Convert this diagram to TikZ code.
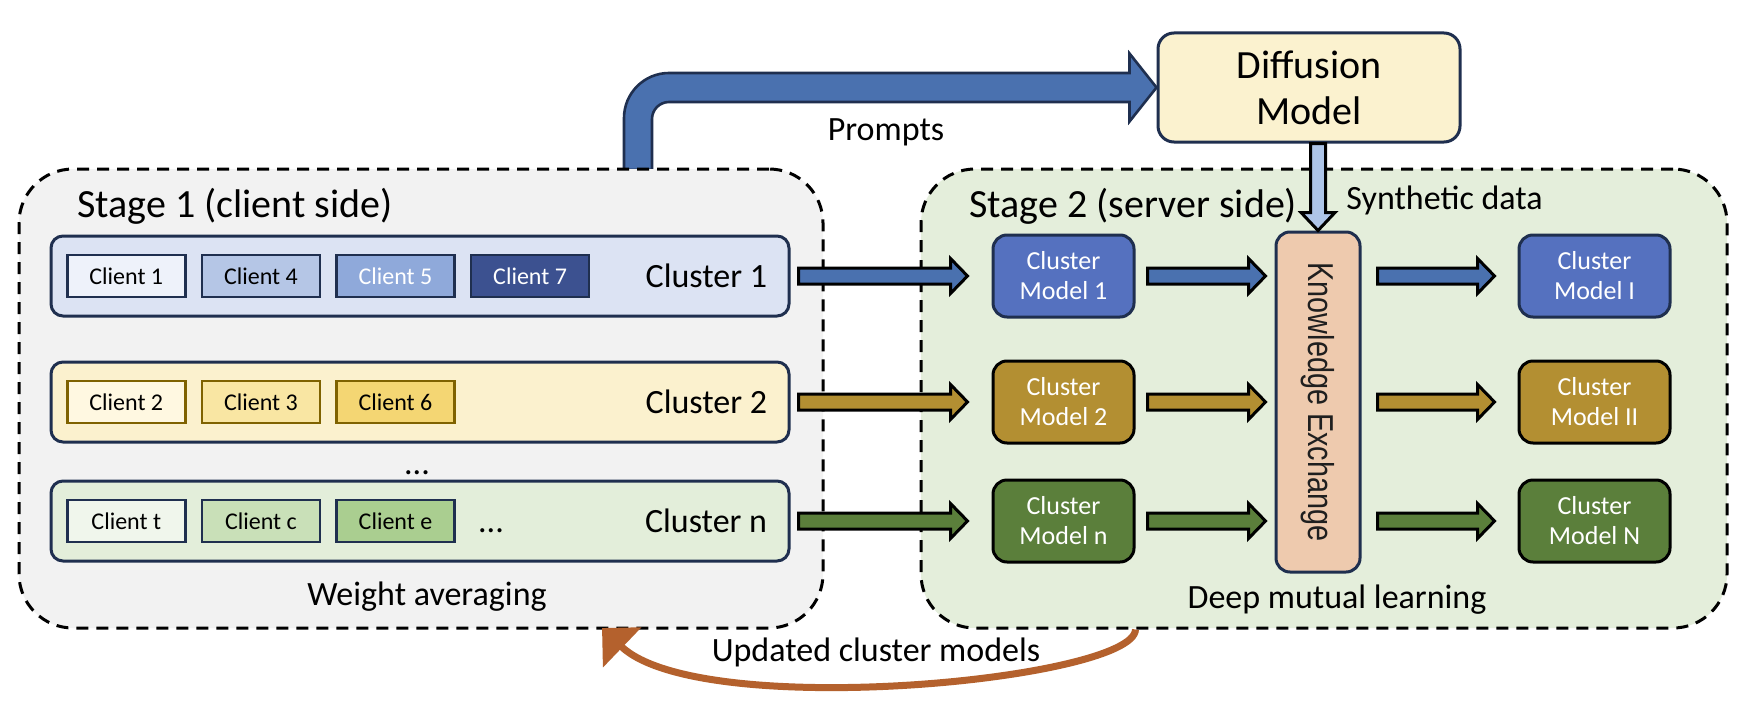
\documentclass[tikz,border=0pt]{standalone}
\usepackage{fontspec}
\setmainfont{Carlito}
\newfontfamily\kefont{Liberation Sans}
\usepackage{tikz}
\usetikzlibrary{positioning}
\usetikzlibrary{arrows.meta,calc}

\definecolor{navy}{HTML}{1F2F4F}
\definecolor{stgA}{HTML}{F2F2F2}
\definecolor{stgB}{HTML}{E4EEDB}
\definecolor{bandA}{HTML}{DCE3F3}
\definecolor{bandB}{HTML}{FBF1CE}
\definecolor{bandN}{HTML}{E3EEDA}
\definecolor{clA}{HTML}{EEF2FA}
\definecolor{clB}{HTML}{B5C6E6}
\definecolor{clC}{HTML}{8FA9DA}
\definecolor{clD}{HTML}{3C5190}
\definecolor{clE}{HTML}{FFF8E1}
\definecolor{clF}{HTML}{F9E6A3}
\definecolor{clG}{HTML}{F4D673}
\definecolor{clbrown}{HTML}{7F6200}
\definecolor{clH}{HTML}{F0F6EC}
\definecolor{clI}{HTML}{C9E0B8}
\definecolor{clJ}{HTML}{AACE90}
\definecolor{mblue}{HTML}{5571BF}
\definecolor{mgold}{HTML}{B38F32}
\definecolor{mgreen}{HTML}{5B7F3B}
\definecolor{ablue}{HTML}{4A71AF}
\definecolor{peach}{HTML}{EECAAE}
\definecolor{diffill}{HTML}{FBF2CF}
\definecolor{synfill}{HTML}{AEC5E8}
\definecolor{rust}{HTML}{B4612D}

\tikzstyle{stagebox} = [draw=black, dash pattern=on 6pt off 4pt, line width=1.5pt, rounded corners=27pt, minimum height=229.5pt]
\tikzstyle{band} = [draw=navy, line width=1.5pt, rounded corners=6pt, minimum width=369pt, minimum height=40pt]
\tikzstyle{client} = [draw=navy, line width=1.3pt, minimum width=59pt, minimum height=21pt, inner sep=0pt, font=\fontsize{12}{14}\selectfont]
\tikzstyle{model} = [draw=black, line width=1.5pt, rounded corners=7pt, minimum width=70.5pt, minimum height=41pt, text=white, align=center, font=\fontsize{13}{15}\selectfont]
\tikzstyle{lbl} = [inner sep=0pt, font=\fontsize{17}{20}\selectfont]
\tikzstyle{stagelbl} = [inner sep=0pt, anchor=west, font=\fontsize{20}{24}\selectfont]
\tikzstyle{updarrow} = [draw=rust, line width=3.5pt, -{Triangle[length=14pt,width=27pt]}]

% fat horizontal arrow: colour, from, to
\newcommand{\hfat}[3]{%
  \filldraw[fill=#1, draw=black, line width=1.5pt] let \p1=#2, \p2=#3 in
    (\x1,\y1+4pt) -- (\x2-8.5pt,\y1+4pt) -- (\x2-8.5pt,\y1+8.75pt) -- (\x2,\y1)
    -- (\x2-8.5pt,\y1-8.75pt) -- (\x2-8.5pt,\y1-4pt) -- (\x1,\y1-4pt) -- cycle;}
% fat downward arrow: colour, from, to
\newcommand{\vfat}[3]{%
  \filldraw[fill=#1, draw=black, line width=1.5pt] let \p1=#2, \p2=#3 in
    (\x2-3.75pt,\y1) -- (\x2-3.75pt,\y2+9pt) -- (\x2-8.5pt,\y2+9pt) -- (\x2,\y2)
    -- (\x2+8.5pt,\y2+9pt) -- (\x2+3.75pt,\y2+9pt) -- (\x2+3.75pt,\y1) -- cycle;}

\begin{document}
\begin{tikzpicture}[x=0.5pt,y=-0.5pt]
  \fill[white] (0,0) rectangle (1749,701);
  \useasboundingbox (0,0) rectangle (1749,701);

  %Nodes
  \node[draw=navy, fill=diffill, line width=1.5pt, rounded corners=8pt, minimum width=151pt, minimum height=54.5pt, align=center, font=\fontsize{20}{23}\selectfont] (DM) at (1309,87.5) {Diffusion\\Model};
  \coordinate (P0) at (638,170);

  % prompts arrow
  \filldraw[fill=ablue, draw=navy, line width=1.3pt] let \p1=(P0), \p2=(DM.west) in
    (\x1-7pt,\y1) -- (\x1-7pt,\y2-15.25pt) arc[start angle=180, end angle=90, radius=22.5pt]
    -- (\x2-13.5pt,\y2+7.25pt) -- (\x2-13.5pt,\y2+17pt) -- (\x2,\y2) -- (\x2-13.5pt,\y2-17pt)
    -- (\x2-13.5pt,\y2-7.25pt) -- (\x1+15.5pt,\y2-7.25pt) arc[start angle=90, end angle=180, radius=8.5pt]
    -- (\x1+7pt,\y1) -- cycle;

  \node[stagebox, fill=stgA, minimum width=402pt] (S1) at (421,398.5) {};
  \node[stagebox, fill=stgB, minimum width=403pt] (S2) at (1324,398.5) {};
  \node[stagelbl] (T1) at (77,206) {Stage 1 (client side)};
  \node[stagelbl] (T2) at (969,206) {Stage 2 (server side)};

  \node[band, fill=bandA] (B1) at (420,276) {};
  \node[band, fill=bandB] (B2) at (420,402) {};
  \node[band, fill=bandN] (Bn) at (420,521) {};

  \node[client, fill=clA, anchor=west] (C1) at (66,276) {Client 1};
  \node[client, fill=clB, right=7pt of C1] (C4) {Client 4};
  \node[client, fill=clC, text=white, right=7pt of C4] (C5) {Client 5};
  \node[client, fill=clD, text=white, right=7pt of C5] (C7) {Client 7};

  \node[client, draw=clbrown, fill=clE, anchor=west] (C2) at (66,402) {Client 2};
  \node[client, draw=clbrown, fill=clF, right=7pt of C2] (C3) {Client 3};
  \node[client, draw=clbrown, fill=clG, right=7pt of C3] (C6) {Client 6};

  \node[client, fill=clH, anchor=west] (Ct) at (66,521) {Client t};
  \node[client, fill=clI, right=7pt of Ct] (Cc) {Client c};
  \node[client, fill=clJ, right=7pt of Cc] (Ce) {Client e};
  \node[lbl, anchor=base] (dotsn) at (491,532) {...};
  \node[lbl, anchor=base] (dots) at (417,474) {...};

  \node[lbl, anchor=east] (L1) at ($(B1.east)+(-23,0)$) {Cluster 1};
  \node[lbl, anchor=east] (L2) at ($(B2.east)+(-23,0)$) {Cluster 2};
  \node[lbl, anchor=east] (Ln) at ($(Bn.east)+(-23,0)$) {Cluster n};
  \node[lbl] (WA) at (427,597) {Weight averaging};

  \node[model, fill=mblue, draw=navy] (M1) at (1063.5,276) {Cluster\\Model 1};
  \node[model, fill=mgold] (M2) at (1063.5,402) {Cluster\\Model 2};
  \node[model, fill=mgreen] (Mn) at (1063.5,521) {Cluster\\Model n};

  \node[draw=navy, fill=peach, line width=1.5pt, rounded corners=7pt, minimum width=42pt, minimum height=170pt] (KE) at (1318,402) {};
  \node[rotate=-90, xscale=0.8, text=black!88, font=\kefont\fontsize{18}{20}\selectfont] (KEtext) at (KE.center) {Knowledge Exchange};

  \node[model, fill=mblue, draw=navy, minimum width=75.5pt] (MI) at (1594.5,276) {Cluster\\Model I};
  \node[model, fill=mgold, minimum width=75.5pt] (MII) at (1594.5,402) {Cluster\\Model II};
  \node[model, fill=mgreen, minimum width=75.5pt] (MN) at (1594.5,521) {Cluster\\Model N};

  \node[lbl] (DL) at (1337,600) {Deep mutual learning};
  \node[lbl] (PR) at (886,132) {Prompts};
  \node[lbl, anchor=west] (SD) at (1346,200) {Synthetic data};
  \node[lbl] (UP) at (876,652) {Updated cluster models};

  %Lines
  \vfat{synfill}{(DM.south)}{(KE.north)}

  \hfat{ablue}{($(B1.east)+(8,0)$)}{($(M1.west)+(-24,0)$)}
  \hfat{mgold}{($(B2.east)+(8,0)$)}{($(M2.west)+(-24,0)$)}
  \hfat{mgreen}{($(Bn.east)+(8,0)$)}{($(Mn.west)+(-24,0)$)}

  \hfat{ablue}{($(M1.east)+(12,0)$)}{($(KE.west)+(-9,0)$)}
  \hfat{mgold}{($(M2.east)+(12,0)$)}{($(KE.west)+(-9,0)$)}
  \hfat{mgreen}{($(Mn.east)+(12,0)$)}{($(KE.west)+(-9,0)$)}

  \hfat{ablue}{($(KE.east |- MI.west)+(16,0)$)}{($(MI.west)+(-23,0)$)}
  \hfat{mgold}{($(KE.east |- MII.west)+(16,0)$)}{($(MII.west)+(-23,0)$)}
  \hfat{mgreen}{($(KE.east |- MN.west)+(16,0)$)}{($(MN.west)+(-23,0)$)}

  \coordinate (U0) at (Mn.east |- S2.south);
  \coordinate (U1) at (602,628);
  \draw[updarrow] (U0) .. controls (1134,680) and (700,722) .. (U1);

\end{tikzpicture}
\end{document}
